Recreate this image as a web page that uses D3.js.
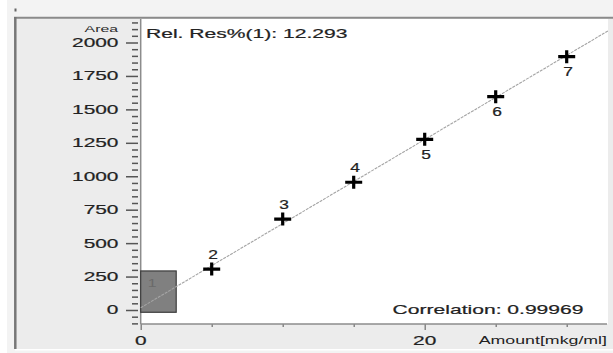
<!DOCTYPE html>
<html>
<head>
<meta charset="utf-8">
<script src="https://cdn.jsdelivr.net/npm/d3@7"></script>
<style>
  html, body { margin: 0; padding: 0; background: #ffffff; }
  svg { display: block; }
  text { font-family: "Liberation Sans", Arial, sans-serif; }
</style>
</head>
<body>
<svg id="chart" width="613" height="353"></svg>
<script>
// Calibration standards: amount [mkg/ml] vs. peak area
const pointIds = ["2", "3", "4", "5", "6", "7"];
const amounts  = [5, 10, 15, 20, 25, 30];
const areas    = [306, 680, 955, 1276, 1595, 1894];

// Level 1 lies inside the zoom box near the origin
const levelOneId = "1";
const levelOneAmount = 0.7;
const levelOneArea = 90;

// Zoom box extent in data units
const boxAmounts = [0, 2.5];
const boxAreas = [-17, 292];

// Axis ticks
const yMajorTicks = [0, 250, 500, 750, 1000, 1250, 1500, 1750, 2000];
const yMinorStep = 50;
const xLabelTicks = [0, 20];
const xMinorStep = 5;

const relResText = "Rel. Res%(1): 12.293";
const correlationText = "Correlation: 0.99969";
const yTitle = "Area";
const xTitle = "Amount[mkg/ml]";

// ---- layout ----
const SX = 1.7;              // horizontal text stretch
const plot = { left: 140.7, right: 608, top: 19, bottom: 324 };

const svg = d3.select("#chart");

const x = d3.scaleLinear().domain([0, 30]).range([140.7, 566.7]);
const y = d3.scaleLinear().domain([0, 2000]).range([310, 42.5]);

// backgrounds
svg.append("rect").attr("x", 7).attr("y", 0).attr("width", 606).attr("height", 353).attr("fill", "#f3f3f3");
svg.append("rect").attr("x", 15).attr("y", 17).attr("width", 598).attr("height", 332).attr("fill", "#ececec");
svg.append("rect").attr("x", 15).attr("y", 349).attr("width", 598).attr("height", 1.5).attr("fill", "#ffffff");
svg.append("line").attr("x1", 14).attr("x2", 613).attr("y1", 17.8).attr("y2", 17.8)
  .attr("stroke", "#8a8a8a").attr("stroke-width", 2);
svg.append("line").attr("x1", 15.3).attr("x2", 15.3).attr("y1", 17).attr("y2", 349)
  .attr("stroke", "#777").attr("stroke-width", 2.5);
svg.append("rect").attr("x", 14.5).attr("y", 8.5).attr("width", 2).attr("height", 3).attr("fill", "#666");

// plot area
svg.append("rect").attr("x", plot.left).attr("y", plot.top)
  .attr("width", plot.right - plot.left).attr("height", plot.bottom - plot.top)
  .attr("fill", "#ffffff");

// y axis ticks (with a small gap before the axis line)
const yMinor = d3.range(-100, 2151, yMinorStep).filter(v => !yMajorTicks.includes(v));
const yAxisG = svg.append("g").attr("transform", "translate(138,0)");
yAxisG.call(d3.axisLeft(y).tickValues(yMinor).tickSize(6).tickFormat(""))
  .call(g => g.select(".domain").remove());
yAxisG.append("g").call(d3.axisLeft(y).tickValues(yMajorTicks).tickSize(12).tickFormat(""))
  .call(g => g.select(".domain").remove());
yAxisG.selectAll("line").attr("stroke", "#555").attr("stroke-width", 1.5);

// shared text style, slightly heavier than regular
const heavy = sel => sel.attr("fill", "#222").attr("stroke", "#222").attr("stroke-width", 0.2);

// y tick labels
svg.append("g").selectAll("text").data(yMajorTicks).join("text")
  .attr("transform", d => `translate(118.5,${y(d) + 4.4}) scale(${SX},1)`)
  .attr("text-anchor", "end")
  .attr("font-size", 12.3)
  .call(heavy)
  .text(d => d);

svg.append("text")
  .attr("transform", `translate(118,32) scale(${SX},1)`)
  .attr("text-anchor", "end").attr("font-size", 9.3).attr("fill", "#2a2a2a")
  .text(yTitle);

// x axis ticks
const xMinor = d3.range(0, 31, xMinorStep).filter(v => !xLabelTicks.includes(v));
const xAxisG = svg.append("g").attr("transform", `translate(0,${plot.bottom})`);
xAxisG.call(d3.axisBottom(x).tickValues(xMinor).tickSize(3).tickFormat(""))
  .call(g => g.select(".domain").remove());
xAxisG.append("g").call(d3.axisBottom(x).tickValues(xLabelTicks).tickSize(6).tickFormat(""))
  .call(g => g.select(".domain").remove());
xAxisG.selectAll("line").attr("stroke", "#777").attr("stroke-width", 1.3);

svg.append("g").selectAll("text").data(xLabelTicks).join("text")
  .attr("transform", d => `translate(${x(d)},345) scale(${SX},1)`)
  .attr("text-anchor", "middle")
  .attr("font-size", 12.3)
  .call(heavy)
  .text(d => d);

svg.append("text")
  .attr("transform", `translate(607,344) scale(${SX * 0.95},1)`)
  .attr("text-anchor", "end").attr("font-size", 11).attr("fill", "#222")
  .text(xTitle);

// axis lines
svg.append("line").attr("x1", plot.left).attr("x2", plot.left).attr("y1", plot.top).attr("y2", plot.bottom)
  .attr("stroke", "#8c8c8c").attr("stroke-width", 1.5);
svg.append("line").attr("x1", plot.left).attr("x2", 607).attr("y1", plot.bottom).attr("y2", plot.bottom)
  .attr("stroke", "#8c8c8c").attr("stroke-width", 1.5);

// zoom box around level 1
svg.append("rect")
  .attr("x", x(boxAmounts[0])).attr("y", y(boxAreas[1]))
  .attr("width", x(boxAmounts[1]) - x(boxAmounts[0]))
  .attr("height", y(boxAreas[0]) - y(boxAreas[1]))
  .attr("fill", "#808080").attr("stroke", "#3c3c3c").attr("stroke-width", 1.2);

// least-squares calibration line through levels 2..7
const mx = d3.mean(amounts), my = d3.mean(areas);
const slope = d3.sum(amounts, (a, i) => (a - mx) * (areas[i] - my)) / d3.sum(amounts, a => (a - mx) ** 2);
const intercept = my - slope * mx;
const xEnd = x.invert(plot.right);
svg.append("line")
  .attr("x1", x(0)).attr("y1", y(intercept))
  .attr("x2", x(xEnd)).attr("y2", y(intercept + slope * xEnd))
  .attr("stroke", "#a4a4a4").attr("stroke-width", 1.1)
  .attr("stroke-dasharray", "3,1");

// level 1 label
svg.append("text")
  .attr("transform", `translate(${x(levelOneAmount) + 1.5},${y(levelOneArea) - 11}) scale(${SX * 0.85},1)`)
  .attr("text-anchor", "middle").attr("font-size", 11).attr("fill", "#6a6a6a")
  .text(levelOneId);

// standard markers
const pts = amounts.map((a, i) => ({ id: pointIds[i], amount: a, area: areas[i], above: i < 3 }));
const marks = svg.append("g").selectAll("g").data(pts).join("g")
  .attr("transform", d => `translate(${x(d.amount)},${y(d.area)})`);
marks.append("path")
  .attr("d", "M-8.5,0H8.5M0,-6.5V6.5")
  .attr("stroke", "#000").attr("stroke-width", 3.2);
marks.append("text")
  .attr("transform", d => `translate(1.5,${d.above ? -10.5 : 19.5}) scale(1.45,1)`)
  .attr("text-anchor", "middle").attr("font-size", 12)
  .call(heavy)
  .text(d => d.id);

// annotations
svg.append("text")
  .attr("transform", `translate(146,37.5) scale(${SX},1)`)
  .attr("font-size", 12.4)
  .call(heavy)
  .text(relResText);
svg.append("text")
  .attr("transform", `translate(583.5,314) scale(${SX},1)`)
  .attr("text-anchor", "end").attr("font-size", 12.4)
  .call(heavy)
  .text(correlationText);
</script>
</body>
</html>
